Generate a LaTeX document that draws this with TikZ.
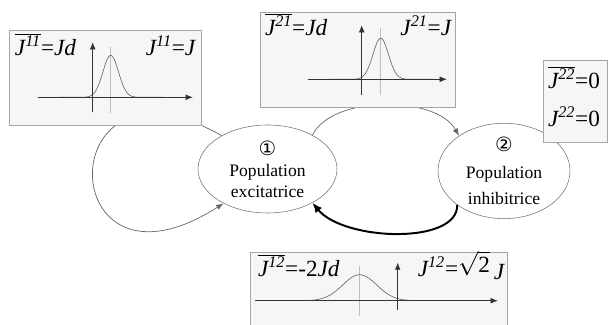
\documentclass[tikz,border=0pt]{standalone}
\usepackage{fontspec}
\setmainfont{Liberation Serif}
\newfontfamily\symfont{DejaVu Sans}
\usetikzlibrary{arrows.meta,positioning,shapes,shadows}

\newcommand{\Jsup}[1]{\textit{J\textsuperscript{#1}}}
\newcommand{\Jbar}[1]{$\overline{\hbox{\Jsup{#1}}}$}

\begin{document}
\begin{tikzpicture}[>=Latex, every node/.style={font=\fontsize{12.5}{15}\selectfont}]
\tikzstyle{pop}=[draw=black!55,ellipse,inner sep=0pt,align=center]
\tikzstyle{plotbox}=[draw=gray!70,fill=gray!7,inner sep=0pt,drop shadow={shadow xshift=0.7pt,shadow yshift=-0.7pt,fill=gray!85,opacity=1}]
\tikzstyle{lbl}=[font=\fontsize{16.5}{18}\selectfont,inner sep=0pt]
\tikzstyle{link}=[draw=gray!80!black,line width=0.5pt]
\tikzstyle{axis}=[->,>={Latex[length=5pt,width=4pt]},black!80]
\useasboundingbox (0,0) rectangle (15.2,8.125);

% populations
\node[pop,minimum width=3.475cm,minimum height=2.2cm] (e1) at (6.6875,3.9) {{\symfont\fontsize{14}{14}\selectfont ①}\\Population\\excitatrice};
\node[pop,minimum width=3.3cm,minimum height=2.2cm] (e2) at (12.6,3.85) {{\symfont\fontsize{14}{14}\selectfont ②}\\[4pt]Population\\[3.5pt]inhibitrice};

% couplings (the boxes are laid over them)
\draw[link,->] (e1.144) .. controls (1.2,7.2) and (1.3,0.3) .. (e1.218);
\draw[link,->] (e1.37) .. controls (8.3,5.75) and (10.9,5.75) .. (e2.142);
\draw[->,>={Latex[length=7pt,width=6pt]},line width=1.4pt] (e2.216) .. controls (11.45,2.0) and (8.6,2.1) .. (e1.323);

% J11
\node[plotbox,minimum width=4.8cm,minimum height=2.375cm] (b11) at (2.625,6.1875) {};
\begin{scope}[shift={(b11.south west)}]
\draw[gray!50] (2.55,0.3) -- (2.55,1.95);
\draw[gray!70!black,domain=-1.3:1.3,samples=80] plot ({2.55+\x},{0.7+1.05*exp(-((\x)^2)/0.075)});
\draw[axis] (0.725,0.7) -- (4.6,0.7);
\draw[axis] (2.1,0.325) -- (2.1,2.075);
\end{scope}
\node[lbl,below right=0.65cm and 0.15cm of b11.north west,anchor=base west] (l11) {\Jbar{11}=\textit{Jd}};
\node[lbl,below left=0.65cm and 0.12cm of b11.north east,anchor=base east] (r11) {\Jsup{11}=\textit{J}};

% J21
\node[plotbox,minimum width=4.875cm,minimum height=2.375cm] (b21) at (8.9375,6.6375) {};
\begin{scope}[shift={(b21.south west)}]
\draw[gray!50] (3.025,0.3) -- (3.025,1.975);
\draw[gray!70!black,domain=-1.3:1.3,samples=80] plot ({3.025+\x},{0.7+1.025*exp(-((\x)^2)/0.075)});
\draw[axis] (1.2,0.7) -- (4.675,0.7);
\draw[axis] (2.55,0.3) -- (2.55,2.05);
\end{scope}
\node[lbl,below right=0.6cm and 0.125cm of b21.north west,anchor=base west] (l21) {\Jbar{21}=\textit{Jd}};
\node[lbl,below left=0.6cm and 0.075cm of b21.north east,anchor=base east] (r21) {\Jsup{21}=\textit{J}};

% J22
\node[plotbox,minimum width=1.6cm,minimum height=2.05cm] (b22) at (14.375,5.6) {};
\node[lbl,below right=0.725cm and 0.125cm of b22.north west,anchor=base west] (l22) {\Jbar{22}=0};
\node[lbl,below right=1.675cm and 0.125cm of b22.north west,anchor=base west] (r22) {\Jsup{22}=0};

% J12
\node[plotbox,minimum width=6.425cm,minimum height=2.325cm] (b12) at (9.4625,0.6625) {};
\begin{scope}[shift={(b12.north west)}]
\draw[gray!50] (2.75,-0.35) -- (2.75,-1.6);
\draw[gray!70!black,domain=-2.4:2.4,samples=100] plot ({2.75+\x},{-1.225+0.65*exp(-((\x)^2)/0.361)});
\draw[axis] (0.125,-1.225) -- (6.2,-1.225);
\draw[axis] (3.7,-1.45) -- (3.7,-0.275);
\end{scope}
\node[lbl,below right=0.625cm and 0.2cm of b12.north west,anchor=base west] (l12) {\Jbar{12}=-2\textit{Jd}};
\node[lbl,below left=0.625cm and 0.05cm of b12.north east,anchor=base east] (r12) {\Jsup{12}=\raisebox{3pt}{$\sqrt{\hbox{2}}$}\,\raisebox{-2pt}{\textit{J}}};
\end{tikzpicture}
\end{document}
